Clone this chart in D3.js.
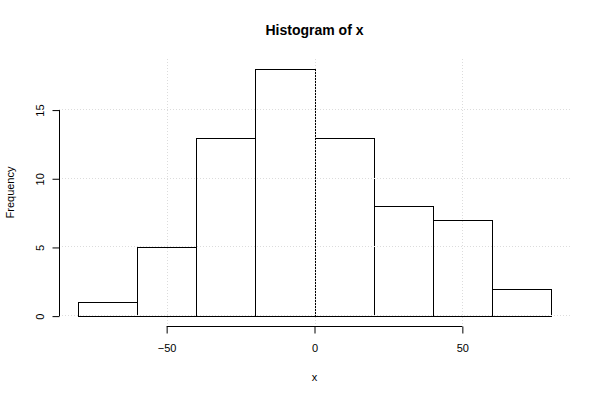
<!DOCTYPE html>
<html><head><meta charset="utf-8">
<script src="https://cdn.jsdelivr.net/npm/d3@7"></script>
<style>body{margin:0;background:#fff}svg{display:block}text{font-family:"Liberation Sans",Arial,sans-serif}</style>
</head><body><svg id="c" width="600" height="400"></svg>
<script>
const binEdges = [-80,-60,-40,-20,0,20,40,60,80];
const counts = [1,5,13,18,13,8,7,2];
const xTicks = [-50,0,50];
const yTicks = [0,5,10,15];

const svg = d3.select("#c");
const pL=59, pR=570, pT=59, pB=326;
const x = d3.scaleLinear().domain([-86.4,86.4]).range([pL,pR]);
const y = d3.scaleLinear().domain([-0.72,18.72]).range([pB,pT]);

const bins = counts.map((c,i)=>({x0:binEdges[i],x1:binEdges[i+1],c}));
svg.append("g").selectAll("rect").data(bins).join("rect")
  .attr("x",d=>Math.round(x(d.x0))+0.5).attr("y",d=>Math.round(y(d.c))+0.5)
  .attr("width",d=>Math.round(x(d.x1))-Math.round(x(d.x0))).attr("height",d=>Math.round(y(0))-Math.round(y(d.c)))
  .attr("fill","none").attr("stroke","#000").attr("stroke-width",1);

// grid (drawn over bars, like the reference)
const g = svg.append("g").attr("stroke","#dcdcdc").attr("stroke-dasharray","1,2").attr("stroke-width",1);
g.selectAll("line.h").data(yTicks).join("line").attr("class","h")
  .attr("x1",pL).attr("x2",pR).attr("y1",d=>Math.round(y(d))-0.5).attr("y2",d=>Math.round(y(d))-0.5);
g.selectAll("line.v").data(xTicks).join("line").attr("class","v")
  .attr("y1",pT).attr("y2",pB).attr("x1",d=>Math.round(x(d))+0.5).attr("x2",d=>Math.round(x(d))+0.5);

// x axis
const xa = svg.append("g").attr("transform",`translate(0,${pB+0.5})`)
  .call(d3.axisBottom(x).tickValues(xTicks).tickSize(7).tickSizeOuter(0).tickFormat(d=>d<0?"\u2212"+Math.abs(d):d));
xa.select(".domain").attr("d",`M${x(-50)},0H${x(50)}`).attr("stroke","#000");
xa.selectAll(".tick line").attr("stroke","#000");
xa.selectAll("text").attr("font-size",11).attr("fill","#000").attr("dy",null).attr("y",25.5);
xa.attr("font-family",null);

// y axis
const ya = svg.append("g").attr("transform",`translate(${pL+0.5},0)`)
  .call(d3.axisLeft(y).tickValues(yTicks).tickSize(7).tickSizeOuter(0));
ya.select(".domain").attr("d",`M0,${y(0)}V${y(15)}`).attr("stroke","#000");
ya.selectAll(".tick line").attr("stroke","#000");
ya.selectAll("text").attr("font-size",11).attr("fill","#000").attr("dy",null)
  .attr("x",null).attr("text-anchor","middle").attr("transform","translate(-16,0) rotate(-90)");
ya.attr("font-family",null);

svg.append("text").attr("x",(pL+pR)/2).attr("y",35).attr("text-anchor","middle")
  .attr("font-size",14).attr("font-weight","bold").text("Histogram of x");
svg.append("text").attr("x",(pL+pR)/2).attr("y",381).attr("text-anchor","middle")
  .attr("font-size",11).text("x");
svg.append("text").attr("transform",`translate(14,${(pT+pB)/2}) rotate(-90)`).attr("text-anchor","middle")
  .attr("font-size",11).text("Frequency");
</script></body></html>
